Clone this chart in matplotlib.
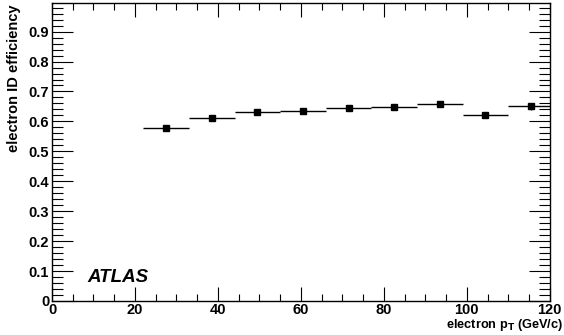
import numpy as np
import matplotlib.pyplot as plt
from matplotlib.ticker import MultipleLocator

plt.rcParams['font.family'] = ['Liberation Sans', 'DejaVu Sans']

# bin edges in electron pT (GeV/c) and measured efficiency
bin_lo = np.array([22, 33, 44, 55, 66, 77, 88, 99, 110])
bin_hi = np.array([33, 44, 55, 66, 77, 88, 99, 110, 121])
eff = np.array([0.578, 0.610, 0.631, 0.636, 0.644, 0.648, 0.659, 0.623, 0.651])
eff_err = np.array([0.004, 0.004, 0.004, 0.004, 0.004, 0.005, 0.006, 0.007, 0.012])

x = (bin_lo + bin_hi) / 2
xerr = (bin_hi - bin_lo) / 2

fig = plt.figure(figsize=(5.64, 3.35), dpi=100)
ax = fig.add_axes([0.0922, 0.1015, 0.8826, 0.889])

ax.errorbar(x, eff, xerr=xerr, yerr=eff_err, fmt="s", color="black",
            markersize=4.5, elinewidth=1, capsize=0)

ax.set_xlim(0, 120)
ax.set_ylim(0, 0.995)

ax.xaxis.set_minor_locator(MultipleLocator(5))
ax.yaxis.set_minor_locator(MultipleLocator(0.02))
ax.set_yticks(np.arange(0, 1.0, 0.1))
ax.set_yticklabels(["0"] + ["%.1f" % v for v in np.arange(0.1, 1.0, 0.1)],
                   fontweight="bold")
ax.set_xticks(np.arange(0, 121, 20))
ax.set_xticklabels([str(v) for v in range(0, 121, 20)], fontweight="bold")
ax.tick_params(which="both", direction="in", top=True, right=True,
               labelsize=10.5, width=0.8)
ax.tick_params(axis="x", which="major", length=10, pad=1.5)
ax.tick_params(axis="x", which="minor", length=5)
ax.tick_params(axis="y", which="major", length=15, pad=2)
ax.tick_params(axis="y", which="minor", length=8)

for s in ax.spines.values():
    s.set_linewidth(1)

fig.text(0.025, 0.988, "electron ID efficiency", rotation=90, ha="center",
         va="top", fontsize=10.5, fontweight="bold")
fig.text(0.999, 0.021, "electron p$_\\mathbf{T}$ (GeV/c)", ha="right",
         va="baseline", fontsize=9.2, fontweight="bold")
ax.text(0.072, 0.065, "ATLAS", transform=ax.transAxes, fontsize=13.5,
        fontweight="bold", fontstyle="italic")

fig.savefig("out.png", dpi=100)
